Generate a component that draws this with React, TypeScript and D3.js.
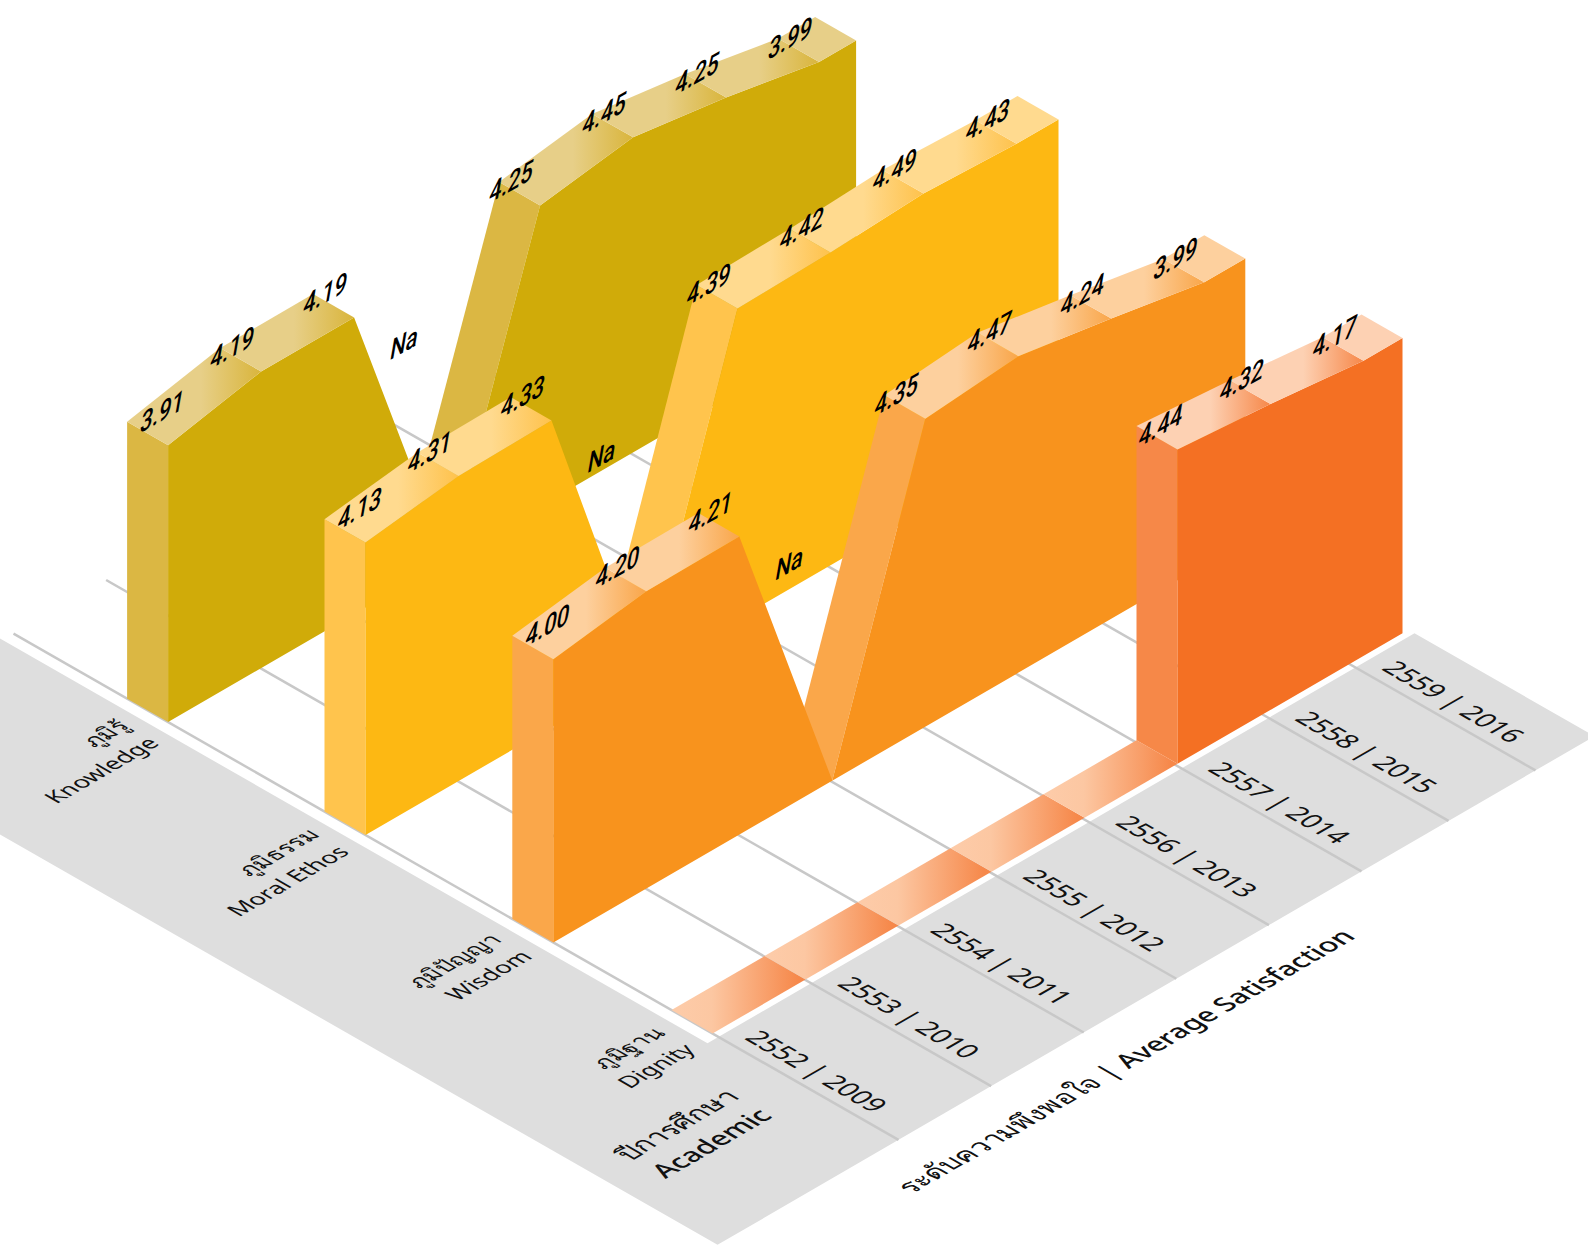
import React, { useEffect, useRef } from 'react';
import * as d3 from 'd3';

// values, null = Na
const years = ['2552 | 2009', '2553 | 2010', '2554 | 2011', '2555 | 2012', '2556 | 2013', '2557 | 2014', '2558 | 2015', '2559 | 2016'];
const categories = ['Knowledge', 'Moral Ethos', 'Wisdom', 'Dignity'];
const categoriesThai = ['ภูมิรู้', 'ภูมิธรรม', 'ภูมิปัญญา', 'ภูมิฐาน'];
const knowledge = [3.91, 4.19, 4.19, null, 4.25, 4.45, 4.25, 3.99];
const moral = [4.13, 4.31, 4.33, null, 4.39, 4.42, 4.49, 4.43];
const wisdom = [4.0, 4.2, 4.21, null, 4.35, 4.47, 4.24, 3.99];
const dignity = [null, null, null, null, null, 4.44, 4.32, 4.17];
const seriesValues = [knowledge, moral, wisdom, dignity];

const seriesColors = [
  { face: '#d0ab09', side: '#dbb743', light: '#e7cf88', dark: '#d9b53c' },
  { face: '#fdb813', side: '#ffc44d', light: '#ffda8f', dark: '#fec24c' },
  { face: '#f8931d', side: '#faa74a', light: '#fdd09e', dark: '#f9a64a' },
  { face: '#f47023', side: '#f68848', light: '#fdd1b3', dark: '#f6884a' },
];

const App: React.FC = () => {
  const svgRef = useRef<SVGSVGElement>(null);

  useEffect(() => {
    if (!svgRef.current) return;
    const svg = d3.select(svgRef.current);
    svg.selectAll('*').remove();

    const width = 1588;
    const height = 1245;
    const font = '"Noto Sans", "Open Sans", sans-serif';
    const slopeT = 0.58;
    const slopeC = 0.572;
    const origin = { x: 712.5, y: 1033.5 };
    const depth = 41;

    // isometric: t runs along the years, c along the categories, h goes up
    const project = (t: number, c: number, h = 0): [number, number] => [
      origin.x + t + c,
      origin.y + c * slopeC - t * slopeT - h,
    ];

    const idx = d3.range(years.length);
    const yearT = d3.scalePoint<number>().domain(idx).range([0, 651]);
    const gridT = d3.scaleLinear().domain([0, 5, 7]).range([0, 463, 637]);
    const catC = d3.scaleOrdinal<string, number>().domain(categories).range([-544.4, -347, -159.2, 0]);
    const endT = d3.scaleOrdinal<string, number>().domain(categories).range([688, 693, 692, 690]);
    const labelC = d3.scaleOrdinal<string, number>().domain(categories).range([-529, -339, -156, 7]);
    const yH = d3.scaleLinear().domain([0, 5]).range([0, 354]);
    const heightOf = (v: number | null) => (v == null ? 0 : yH(v));

    const poly = d3.line<[number, number]>().x(d => d[0]).y(d => d[1]);
    const closed = (pts: [number, number][]) => poly(pts) + 'Z';

    // gradients for the sloped tops
    const defs = svg.append('defs');
    seriesColors.forEach((col, i) => {
      const g = defs.append('linearGradient').attr('id', `top${i}`).attr('x1', 0).attr('x2', 1).attr('y1', 0).attr('y2', 0);
      g.append('stop').attr('offset', 0).attr('stop-color', col.light);
      g.append('stop').attr('offset', 0.55).attr('stop-color', col.light);
      g.append('stop').attr('offset', 1).attr('stop-color', col.dark);
    });
    const rg = defs.append('linearGradient').attr('id', 'ribbon').attr('x1', 0).attr('x2', 1).attr('y1', 0).attr('y2', 0);
    rg.append('stop').attr('offset', 0.05).attr('stop-color', '#fdcba8');
    rg.append('stop').attr('offset', 0.3).attr('stop-color', '#fcc7a2');
    rg.append('stop').attr('offset', 0.95).attr('stop-color', '#f6884a');

    // grey floor
    svg.append('path')
      .attr('d', closed([
        project(-11, -800), project(-11, 6), project(696, 6), project(696, 186),
        project(-181, 186), project(-181, -800),
      ]))
      .attr('fill', '#dedede');

    // grid lines
    svg.selectAll('line.grid')
      .data(idx)
      .enter()
      .append('line')
      .attr('class', 'grid')
      .attr('x1', i => project(gridT(i), -699)[0])
      .attr('y1', i => project(gridT(i), -699)[1])
      .attr('x2', i => project(gridT(i), 186)[0])
      .attr('y2', i => project(gridT(i), 186)[1])
      .attr('stroke', '#c8c8c8')
      .attr('stroke-width', 2.5);

    // flat strip on the floor in front of the Dignity block
    const firstDignity = dignity.findIndex(v => v != null);
    d3.range(firstDignity).forEach(i => {
      const c = catC('Dignity');
      const t0 = yearT(i) as number;
      const t1 = yearT(i + 1) as number;
      svg.append('path')
        .attr('d', closed([project(t0, c), project(t1, c), project(t1, c - depth), project(t0, c - depth)]))
        .attr('fill', 'url(#ribbon)');
    });

    // ribbons
    seriesValues.forEach((values, s) => {
      const c = catC(categories[s]);
      const back = c - depth;
      const col = seriesColors[s];
      const start = values.findIndex(v => v != null);
      const t0 = yearT(start) as number;
      const tEnd = endT(categories[s]);
      const g = svg.append('g');

      // end column and the walls that climb out of a Na
      g.append('path')
        .attr('d', closed([project(t0, c), project(t0, c, heightOf(values[start])), project(t0, back, heightOf(values[start])), project(t0, back)]))
        .attr('fill', col.side);
      idx.slice(start, -1).forEach(i => {
        if (values[i] == null && values[i + 1] != null) {
          const a = yearT(i) as number;
          const b = yearT(i + 1) as number;
          const h = heightOf(values[i + 1]);
          g.append('path')
            .attr('d', closed([project(a, c), project(b, c, h), project(b, back, h), project(a, back)]))
            .attr('fill', col.side);
        }
      });

      // front face
      const top: [number, number][] = idx.slice(start).map(i => project(yearT(i) as number, c, heightOf(values[i])));
      const lastH = heightOf(values[values.length - 1]);
      g.append('path')
        .attr('d', closed([project(t0, c), ...top, project(tEnd, c, lastH), project(tEnd, c)]))
        .attr('fill', col.face);

      // tops
      idx.slice(start, -1).forEach(i => {
        if (values[i] == null || values[i + 1] == null) return;
        const a = yearT(i) as number;
        const b = yearT(i + 1) as number;
        const ha = heightOf(values[i]);
        const hb = heightOf(values[i + 1]);
        g.append('path')
          .attr('d', closed([project(a, c, ha), project(b, c, hb), project(b, back, hb), project(a, back, ha)]))
          .attr('fill', `url(#top${s})`);
      });
      const tLast = yearT(idx.length - 1) as number;
      g.append('path')
        .attr('d', closed([project(tLast, c, lastH), project(tEnd, c, lastH), project(tEnd, back, lastH), project(tLast, back, lastH)]))
        .attr('fill', col.light);

      // value labels, skewed to sit on the ridge
      const labelG = g.append('g')
        .attr('font-family', 'Roboto, "Noto Sans", sans-serif')
        .attr('font-size', 26)
        .attr('font-weight', 500)
        .attr('fill', '#000');
      const skew = '.84,-.48,-.2,1.15';
      idx.slice(start).forEach(i => {
        const v = values[i];
        const t = yearT(i) as number;
        if (v == null) {
          const p = project(t, back, 183);
          labelG.append('text')
            .attr('transform', `matrix(${skew},${p[0] - 17},${p[1] + 7})`)
            .text('Na');
          return;
        }
        const p = project(t, back, heightOf(v));
        let dx = -11;
        let dy = 22;
        if (i === 0) {
          dx = 12;
          dy = 12;
        } else if (i === start) {
          dx = 1;
          dy = 22;
        }
        labelG.append('text')
          .attr('transform', `matrix(${skew},${p[0] + dx},${p[1] + dy})`)
          .text(v.toFixed(2));
      });
    });

    // text lying on the floor
    const alongYears = (t: number, c: number) => {
      const p = project(t, c);
      return `matrix(.866,-.5,.866,.5,${p[0]},${p[1]})`;
    };
    const alongCats = (t: number, c: number) => {
      const p = project(t, c);
      return `matrix(.866,.5,-.866,.5,${p[0]},${p[1]})`;
    };

    const floorText = svg.append('g').attr('font-family', font).attr('fill', '#111');

    years.forEach((y, i) => {
      floorText.append('text')
        .attr('transform', alongCats(gridT(i) + 11, 20))
        .attr('font-size', 26.5)
        .text(y);
    });

    categories.forEach((name, i) => {
      const c = labelC(name);
      floorText.append('text')
        .attr('transform', alongYears(-23, c))
        .attr('text-anchor', 'end')
        .attr('font-size', 23)
        .text(name);
      floorText.append('text')
        .attr('transform', alongYears(-23, c - 30))
        .attr('text-anchor', 'end')
        .attr('font-size', 23)
        .text(categoriesThai[i]);
    });

    floorText.append('text')
      .attr('transform', alongYears(-42, 103))
      .attr('text-anchor', 'end')
      .attr('font-size', 27)
      .attr('font-weight', 500)
      .text('Academic');
    floorText.append('text')
      .attr('transform', alongYears(-42, 70))
      .attr('text-anchor', 'end')
      .attr('font-size', 27)
      .attr('font-weight', 500)
      .text('ปีการศึกษา');

    floorText.append('text')
      .attr('transform', alongYears(-42, 240))
      .attr('font-size', 27)
      .attr('font-weight', 500)
      .text('ระดับความพึงพอใจ | Average Satisfaction');

    svg.attr('width', width).attr('height', height);
  }, []);

  return <svg ref={svgRef} style={{ position: 'absolute', left: 0, top: 0, display: 'block' }} />;
};

export default App;
